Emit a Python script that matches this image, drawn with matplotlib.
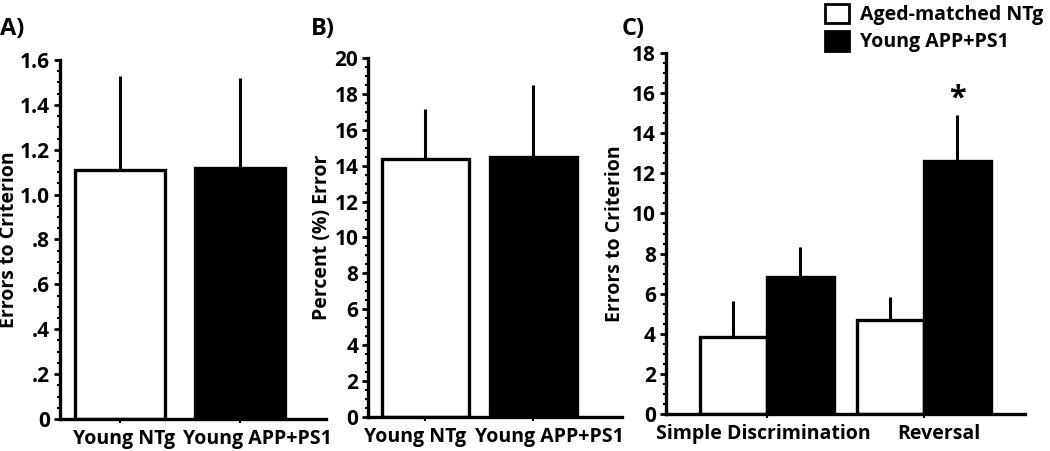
import matplotlib

matplotlib.use("Agg")
import matplotlib.pyplot as plt
import matplotlib.transforms as mtransforms
from matplotlib.patches import Patch
from matplotlib.ticker import AutoMinorLocator

plt.rcParams["font.family"] = ["Open Sans", "DejaVu Sans"]
plt.rcParams["font.weight"] = "bold"

# Panel A: errors to criterion
a_groups = ["Young NTg", "Young APP+PS1"]
a_means = [1.11, 1.12]
a_sem = [0.42, 0.40]

# Panel B: percent error
b_groups = ["Young NTg", "Young APP+PS1"]
b_means = [14.4, 14.5]
b_sem = [2.75, 4.0]

# Panel C: errors to criterion by phase
c_phases = ["Simple Discrimination", "Reversal"]
c_ntg = [3.85, 4.7]
c_ntg_sem = [1.8, 1.15]
c_app = [6.85, 12.6]
c_app_sem = [1.5, 2.3]
legend_labels = ["Aged-matched NTg", "Young APP+PS1"]

FS = 14
YFS = 15
LW = 2.4

fig = plt.figure(figsize=(10.5, 4.51), dpi=100)
axA = fig.add_axes([0.0571, 0.071, 0.2534, 0.796])
axB = fig.add_axes([0.3505, 0.0754, 0.2419, 0.796])
axC = fig.add_axes([0.634, 0.082, 0.342, 0.8005])


def style(ax, shifts, label_x):
    for s in ("top", "right"):
        ax.spines[s].set_visible(False)
    for s in ("left", "bottom"):
        ax.spines[s].set_linewidth(LW)
    ax.yaxis.set_minor_locator(AutoMinorLocator(4))
    ax.tick_params(axis="y", which="major", direction="out", length=4, width=2,
                   labelsize=YFS, pad=3)
    ax.tick_params(axis="y", which="minor", direction="out", length=2, width=1.5)
    ax.tick_params(axis="x", direction="out", length=3, width=1.5,
                   labelsize=FS, pad=4)
    for lab in ax.get_xticklabels() + ax.get_yticklabels():
        lab.set_fontweight("bold")
    # nudge the category labels sideways, as in the original layout
    for lab, dx in zip(ax.get_xticklabels(), shifts):
        off = mtransforms.ScaledTranslation(dx / 100.0, 0, fig.dpi_scale_trans)
        lab.set_transform(lab.get_transform() + off)
    ax.yaxis.set_label_coords(label_x, 0.5)


def bars(ax, x, h, err, color, width):
    ax.bar(x, h, width=width, color=color, edgecolor="black", linewidth=LW, zorder=2)
    ax.errorbar(x, h, yerr=[[0] * len(h), err], fmt="none", ecolor="black",
                elinewidth=2.2, capsize=0, zorder=1)


# --- A ---
bars(axA, [0], a_means[:1], a_sem[:1], "white", 0.75)
bars(axA, [1], a_means[1:], a_sem[1:], "black", 0.75)
axA.set_xlim(-0.5, 1.72)
axA.set_ylim(0, 1.6)
axA.set_yticks([0, 0.2, 0.4, 0.6, 0.8, 1.0, 1.2, 1.4, 1.6])
axA.set_yticklabels(["0", ".2", ".4", ".6", ".8", "1.0", "1.2", "1.4", "1.6"])
axA.set_xticks([0, 1])
axA.set_xticklabels(a_groups)
axA.set_ylabel("Errors to Criterion", fontsize=FS, fontweight="bold")
style(axA, [4, 18], -0.155)

# --- B ---
bars(axB, [0], b_means[:1], b_sem[:1], "white", 0.81)
bars(axB, [1], b_means[1:], b_sem[1:], "black", 0.81)
axB.set_xlim(-0.53, 1.82)
axB.set_ylim(0, 20)
axB.set_yticks(range(0, 21, 2))
axB.set_xticks([0, 1])
axB.set_xticklabels(b_groups)
axB.set_ylabel("Percent (%) Error", fontsize=FS, fontweight="bold")
style(axB, [-10, 16], -0.14)

# --- C ---
w = 0.427
xs = [0, 1]
bars(axC, [x - w / 2 for x in xs], c_ntg, c_ntg_sem, "white", w)
bars(axC, [x + w / 2 for x in xs], c_app, c_app_sem, "black", w)
axC.set_xlim(-0.643, 1.643)
axC.set_ylim(0, 18)
axC.set_yticks(range(0, 19, 2))
axC.set_xticks(xs)
axC.set_xticklabels(c_phases)
axC.set_ylabel("Errors to Criterion", fontsize=FS, fontweight="bold")
axC.text(1 + w / 2, c_app[1] + c_app_sem[1] + 0.1, "*", ha="center", va="bottom",
         fontsize=22, fontweight="bold")
style(axC, [-3, 15], -0.112)

# panel letters
for xpos, letter in [(0.0, "A)"), (0.296, "B)"), (0.592, "C)")]:
    fig.text(xpos, 0.935, letter, fontsize=17, fontweight="bold", va="center")

handles = [Patch(facecolor="white", edgecolor="black", linewidth=2),
           Patch(facecolor="black", edgecolor="black", linewidth=2)]
fig.legend(handles, legend_labels, loc="upper left", bbox_to_anchor=(0.775, 1.018),
           frameon=False, handlelength=1.2, handleheight=1.2,
           labelspacing=0.3, borderpad=0.1, handletextpad=0.6,
           prop={"weight": "bold", "size": FS})

fig.savefig("out.png", dpi=100)
